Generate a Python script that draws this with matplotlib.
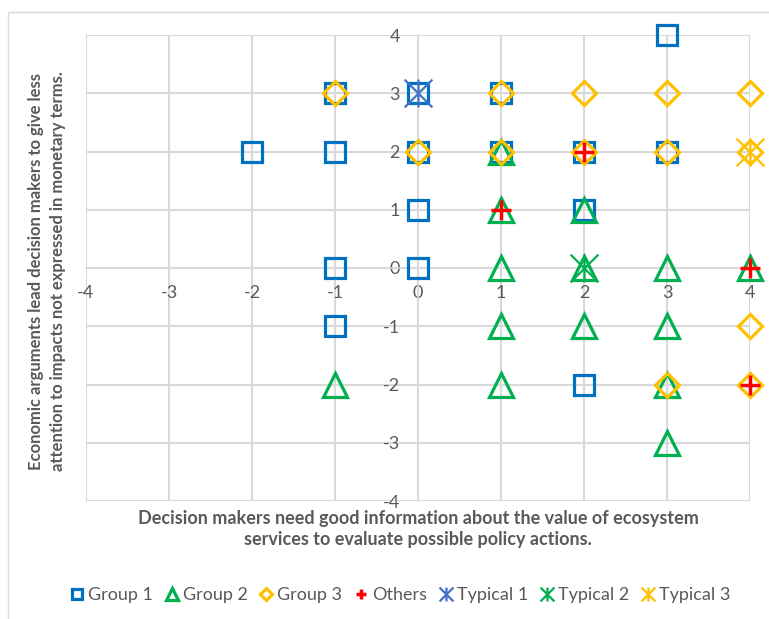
import matplotlib
matplotlib.use("Agg")
import matplotlib.pyplot as plt
from matplotlib.path import Path
from matplotlib.patches import Rectangle

plt.rcParams["font.family"] = ["Lato", "DejaVu Sans"]

# Survey responses: (x, y) positions for each respondent group
group1_x = [-2, -1, -1, -1, -1, 0, 0, 0, 0, 1, 1, 2, 2, 2, 3, 3]
group1_y = [2, 3, 2, 0, -1, 3, 2, 1, 0, 3, 2, 2, 1, -2, 4, 2]

group2_x = [-1, 1, 1, 1, 1, 1, 2, 2, 2, 3, 3, 3, 3, 4]
group2_y = [-2, 2, 1, 0, -1, -2, 1, 0, -1, 0, -1, -2, -3, 0]

group3_x = [-1, 0, 1, 1, 2, 2, 3, 3, 4, 4, 4, 3, 4]
group3_y = [3, 2, 3, 2, 3, 2, 3, 2, 3, 2, -1, -2, -2]

others_x = [2, 1, 4, 4]
others_y = [2, 1, 0, -2]

typical1_x = [0]
typical1_y = [3]
typical2_x = [2]
typical2_y = [0]
typical3_x = [4]
typical3_y = [2]

tick_values = [-4, -3, -2, -1, 0, 1, 2, 3, 4]

# Excel-style "star" marker: an X with a vertical bar through it
star = Path([(-1, -1), (1, 1), (-1, 1), (1, -1), (0, -1), (0, 1)],
            [Path.MOVETO, Path.LINETO, Path.MOVETO, Path.LINETO,
             Path.MOVETO, Path.LINETO])

BLUE = "#0070C0"
GREEN = "#00B050"
GOLD = "#FFC000"
RED = "#FF0000"
TEXT = "#595959"
GRID = "#D9D9D9"

fig = plt.figure(figsize=(7.69, 6.19), dpi=100)
ax = fig.add_axes([86 / 769, 1 - 501 / 619, 664 / 769, 466 / 619])

series = [
    (group1_x, group1_y, "Group 1", dict(marker="s", ms=14, mec=BLUE, mew=2.3)),
    (group2_x, group2_y, "Group 2", dict(marker="^", ms=17, mec=GREEN, mew=2.3)),
    (group3_x, group3_y, "Group 3", dict(marker="D", ms=12, mec=GOLD, mew=2.3)),
    (others_x, others_y, "Others", dict(marker="+", ms=15, mec=RED, mew=2.5)),
    (typical1_x, typical1_y, "Typical 1", dict(marker=star, ms=20, mec="#4472C4", mew=1.6)),
    (typical2_x, typical2_y, "Typical 2", dict(marker=star, ms=20, mec=GREEN, mew=1.6)),
    (typical3_x, typical3_y, "Typical 3", dict(marker=star, ms=20, mec=GOLD, mew=1.6)),
]

handles = []
for xs, ys, label, style in series:
    (h,) = ax.plot(xs, ys, linestyle="none", mfc="none", label=label,
                   clip_on=False, zorder=3, **style)
    handles.append(h)

ax.set_xlim(-4, 4)
ax.set_ylim(-4, 4)
ax.set_xticks(tick_values)
ax.set_yticks(tick_values)
ax.set_xticklabels([str(v) for v in tick_values])
ax.set_yticklabels([str(v) for v in tick_values])
ax.grid(True, color=GRID, lw=1.5, zorder=0)
ax.set_axisbelow(True)

for side in ("top", "right"):
    ax.spines[side].set_visible(False)
for side in ("left", "bottom"):
    ax.spines[side].set_position("zero")
    ax.spines[side].set_color(GRID)
    ax.spines[side].set_linewidth(1.2)

ax.tick_params(axis="both", length=0, labelsize=13, labelcolor=TEXT)
ax.tick_params(axis="x", pad=12.5)
ax.tick_params(axis="y", pad=13)

fig.text(418 / 769, 1 - 529 / 619,
         "Decision makers need good information about the value of ecosystem\n"
         "services to evaluate possible policy actions.",
         ha="center", va="center", fontsize=13, fontweight="bold",
         color=TEXT, linespacing=1.3)

fig.text(47 / 769, 1 - 271 / 619,
         "Economic arguments lead decision makers to give less\n"
         "attention to impacts not expressed in monetary terms.",
         ha="center", va="center", rotation=90, fontsize=12,
         fontweight="bold", color=TEXT, linespacing=1.4)

leg = fig.legend(handles=handles, loc="center", ncol=7,
                 bbox_to_anchor=(400 / 769, 1 - 595 / 619),
                 frameon=False, markerscale=0.5, fontsize=13,
                 handlelength=0.8, handletextpad=0.2, columnspacing=0.65,
                 labelcolor=TEXT)

# Chart area outline
fig.patches.append(Rectangle((8 / 769, -0.1), 1.2, 1.1 - 12 / 619,
                             transform=fig.transFigure, fill=False,
                             edgecolor=GRID, lw=1.0))

fig.savefig("out.png", dpi=100)
